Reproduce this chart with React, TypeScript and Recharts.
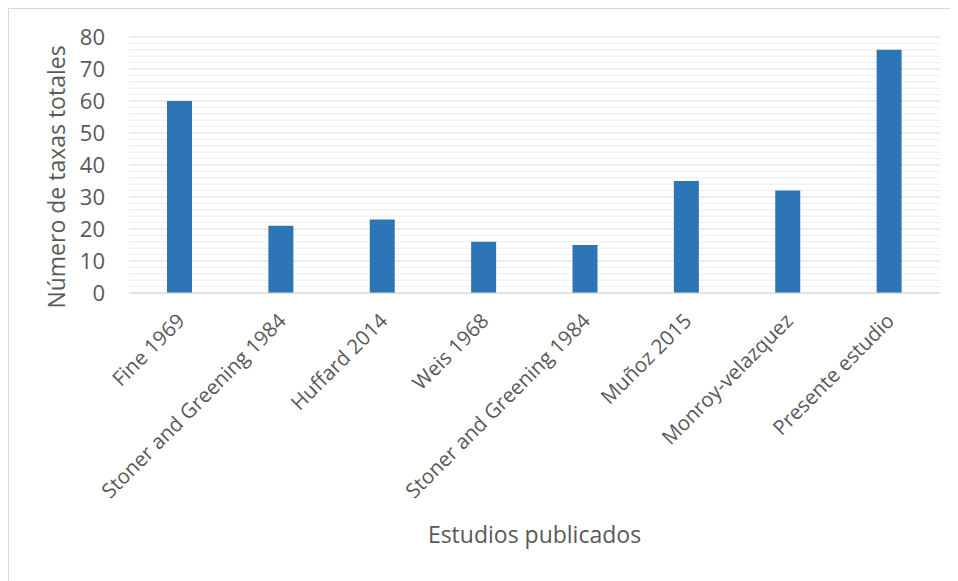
import React from "react";
import { BarChart, Bar, XAxis, YAxis, CartesianGrid, Label } from "recharts";

const categories = [
  "Fine 1969",
  "Stoner and Greening 1984",
  "Huffard 2014",
  "Weis 1968",
  "Stoner and Greening 1984 ",
  "Muñoz 2015",
  "Monroy-velazquez",
  "Presente estudio",
];
const values = [60, 21, 23, 16, 15, 35, 32, 76];
const yTicks = [0, 10, 20, 30, 40, 50, 60, 70, 80];
const minorTicks = [2, 4, 6, 8, 12, 14, 16, 18, 22, 24, 26, 28, 32, 34, 36, 38, 42, 44, 46, 48, 52, 54, 56, 58, 62, 64, 66, 68, 72, 74, 76, 78];
const xTitle = "Estudios publicados";
const yTitle = "Número de taxas totales";

const data = categories.map((c, i) => ({ name: c, value: values[i] }));

const FONT = "'Open Sans', sans-serif";
const TEXT = "#595959";

const XTick = (props: any) => {
  const { x, y, payload } = props;
  const px = x - 4;
  const py = y + 19;
  return (
    <text
      x={px}
      y={py}
      dy="0.71em"
      textAnchor="end"
      transform={`rotate(-45, ${px}, ${py})`}
      fill={TEXT}
      fontSize={20.5}
      fontFamily={FONT}
    >
      {String(payload.value).trim()}
    </text>
  );
};

export default function App() {
  return (
    <div
      style={{
        position: "relative",
        width: 950,
        height: 573,
        borderTop: "1px solid #d9d9d9",
        borderLeft: "1px solid #d9d9d9",
        boxSizing: "border-box",
        background: "#fff",
      }}
    >
      <BarChart
        width={949}
        height={572}
        data={data}
        margin={{ top: 28, right: 18, left: 0, bottom: 0 }}
        barCategoryGap="10%"
      >
        <CartesianGrid
          vertical={false}
          horizontalValues={minorTicks}
          stroke="#eeeeee"
          strokeWidth={1}
        />
        <CartesianGrid
          vertical={false}
          horizontalValues={yTicks}
          stroke="#d9d9d9"
          strokeWidth={1}
        />
        <XAxis
          dataKey="name"
          interval={0}
          height={288}
          tickLine={false}
          tickSize={0}
          tickMargin={0}
          axisLine={{ stroke: "#d9d9d9" }}
          tick={<XTick />}
        >
          <Label
            content={(p: any) => {
              const vb = p.viewBox;
              return (
                <text
                  x={vb.x + vb.width / 2}
                  y={vb.y + 250}
                  textAnchor="middle"
                  fill={TEXT}
                  fontSize={23}
                  fontFamily={FONT}
                >
                  {xTitle}
                </text>
              );
            }}
          />
        </XAxis>
        <YAxis
          width={120}
          domain={[0, 80]}
          ticks={yTicks}
          interval={0}
          axisLine={false}
          tickLine={false}
          tickSize={0}
          tickMargin={24}
          tick={{ fill: TEXT, fontSize: 22, fontFamily: FONT }}
        >
          <Label
            content={() => (
              <text
                x={47}
                y={168}
                textAnchor="middle"
                dominantBaseline="central"
                transform="rotate(-90, 47, 168)"
                fill={TEXT}
                fontSize={23}
                fontFamily={FONT}
              >
                {yTitle}
              </text>
            )}
          />
        </YAxis>
        <Bar dataKey="value" fill="#2E75B6" barSize={25} isAnimationActive={false} />
      </BarChart>
    </div>
  );
}
